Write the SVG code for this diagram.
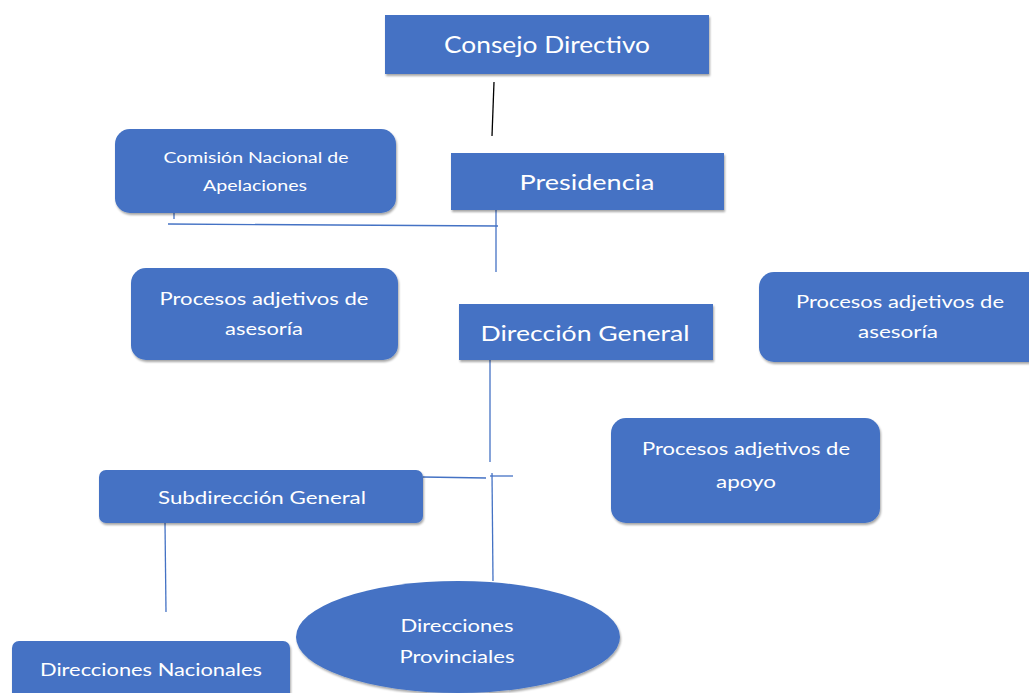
<svg xmlns="http://www.w3.org/2000/svg" width="1029" height="693" viewBox="0 0 1029 693">
<defs>
<filter id="sh" x="-5%" y="-5%" width="110%" height="115%">
<feDropShadow dx="1" dy="2" stdDeviation="1.2" flood-color="#000" flood-opacity="0.35"/>
</filter>
</defs>
<style>
.n{fill:#4472C4;filter:url(#sh)}
.t{fill:#fff;font-family:Lato,"Open Sans",sans-serif;text-anchor:middle}
.c{stroke:#4472C4;stroke-width:1.3;fill:none}
</style>
<rect width="1029" height="693" fill="#fff"/>
<g id="connectors">
<line x1="494" y1="82" x2="492" y2="136" stroke="#000" stroke-width="1.3"/>
<line class="c" x1="496" y1="210" x2="496" y2="272"/>
<line class="c" x1="168" y1="224" x2="498" y2="226"/>
<line class="c" x1="174" y1="211" x2="174" y2="219"/>
<line class="c" x1="490" y1="360" x2="490" y2="462"/>
<line class="c" x1="423" y1="477" x2="486" y2="478"/>
<line class="c" x1="490" y1="476" x2="513" y2="476"/>
<line class="c" x1="492" y1="473" x2="493" y2="581"/>
<line class="c" x1="165" y1="523" x2="166" y2="612"/>
</g>
<g id="consejo"><rect class="n" x="385" y="15" width="324" height="59"/><text class="t" x="547" y="53" font-size="23" textLength="206" lengthAdjust="spacingAndGlyphs">Consejo Directivo</text></g>
<g id="presidencia"><rect class="n" x="451" y="153" width="273" height="57"/><text class="t" x="587" y="190" font-size="22" textLength="135" lengthAdjust="spacingAndGlyphs">Presidencia</text></g>
<g id="comision"><rect class="n" x="115" y="129" width="281" height="84" rx="15"/><text class="t" x="256" y="163" font-size="14.5" textLength="185" lengthAdjust="spacingAndGlyphs">Comisión Nacional de</text><text class="t" x="255" y="191" font-size="14.5" textLength="104" lengthAdjust="spacingAndGlyphs">Apelaciones</text></g>
<g id="asesoria1"><rect class="n" x="131" y="268" width="267" height="92" rx="15"/><text class="t" x="264" y="305" font-size="18" textLength="209" lengthAdjust="spacingAndGlyphs">Procesos adjetivos de</text><text class="t" x="264" y="335" font-size="18" textLength="78" lengthAdjust="spacingAndGlyphs">asesoría</text></g>
<g id="direccion"><rect class="n" x="459" y="304" width="254" height="56"/><text class="t" x="585" y="341" font-size="22" textLength="209" lengthAdjust="spacingAndGlyphs">Dirección General</text></g>
<g id="asesoria2"><rect class="n" x="759" y="272" width="285" height="90" rx="15"/><text class="t" x="900" y="308" font-size="18" textLength="208" lengthAdjust="spacingAndGlyphs">Procesos adjetivos de</text><text class="t" x="898" y="338" font-size="18" textLength="80" lengthAdjust="spacingAndGlyphs">asesoría</text></g>
<g id="apoyo"><rect class="n" x="611" y="418" width="269" height="105" rx="15"/><text class="t" x="746" y="455" font-size="18" textLength="208" lengthAdjust="spacingAndGlyphs">Procesos adjetivos de</text><text class="t" x="746" y="488" font-size="18" textLength="60" lengthAdjust="spacingAndGlyphs">apoyo</text></g>
<g id="subdireccion"><rect class="n" x="99" y="470" width="324" height="53" rx="7"/><text class="t" x="262" y="504" font-size="18" textLength="208" lengthAdjust="spacingAndGlyphs">Subdirección General</text></g>
<g id="nacionales"><rect class="n" x="12" y="641" width="278" height="60" rx="7"/><text class="t" x="151" y="676" font-size="18" textLength="222" lengthAdjust="spacingAndGlyphs">Direcciones Nacionales</text></g>
<g id="provinciales"><ellipse class="n" cx="458" cy="637" rx="162" ry="56"/><text class="t" x="457" y="632" font-size="18" textLength="113" lengthAdjust="spacingAndGlyphs">Direcciones</text><text class="t" x="457" y="663" font-size="18" textLength="115" lengthAdjust="spacingAndGlyphs">Provinciales</text></g>
</svg>
